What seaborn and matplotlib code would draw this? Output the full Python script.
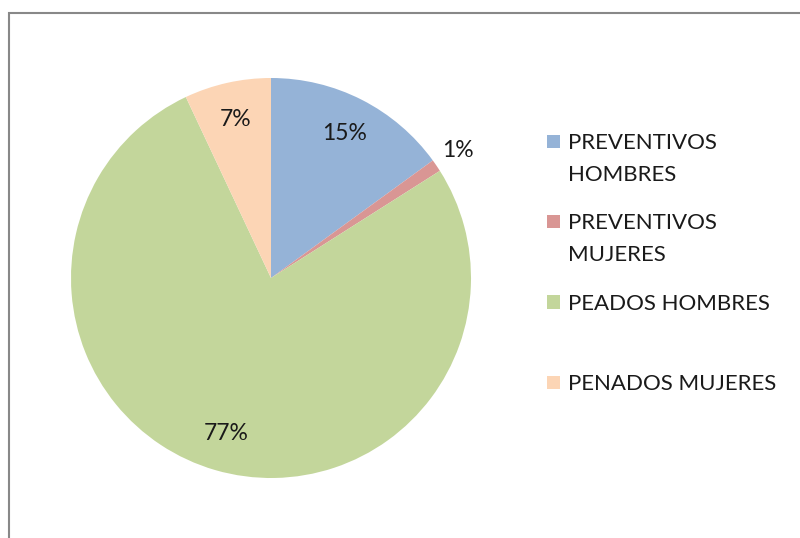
import matplotlib
matplotlib.use("Agg")
import numpy as np
import matplotlib.pyplot as plt
import seaborn as sns
from matplotlib.patches import Rectangle, Wedge
from matplotlib.legend_handler import HandlerPatch

categories = ["PREVENTIVOS\nHOMBRES", "PREVENTIVOS\nMUJERES", "PEADOS HOMBRES\n", "PENADOS MUJERES\n"]
percentages = [15, 1, 77, 7]
colors = ["#95B3D7", "#D99694", "#C3D69B", "#FCD5B5"]

sns.set_style("white")
plt.rcParams['font.family'] = ['Lato', 'DejaVu Sans']

fig = plt.figure(figsize=(8, 5.38), dpi=100)
ax = fig.add_axes([71 / 800, 1 - 478 / 538, 400 / 800, 400 / 538])
wedges, _ = ax.pie(percentages, colors=sns.color_palette(colors), startangle=90,
                   counterclock=False, wedgeprops=dict(linewidth=0))
ax.set_xlim(-1, 1)
ax.set_ylim(-1, 1)

# percentage labels, small slices go outside
for w, p in zip(wedges, percentages):
    ang = np.deg2rad((w.theta1 + w.theta2) / 2)
    r = 0.81 if p >= 5 else 1.13
    ax.text(r * np.cos(ang), r * np.sin(ang), f"{p}%", ha='center', va='center',
            fontsize=16.5, color='#1a1a1a')

# outer chart frame
fig.add_artist(Rectangle((9 / 800, -0.05), 1.0, 1 - 13 / 538 + 0.05, transform=fig.transFigure,
                         fill=False, edgecolor='#888888', linewidth=1.5))


def square(legend, orig_handle, xdescent, ydescent, width, height, fontsize):
    # put the marker next to the first line of the label
    return Rectangle((-xdescent, -ydescent + 0.85 * fontsize), width, width)


leg = fig.legend(wedges, categories, loc='upper left', bbox_to_anchor=(547 / 800, 1 - 133 / 538),
                 frameon=False, fontsize=16, handlelength=0.6, handletextpad=0.35,
                 labelspacing=1.3, borderpad=0, borderaxespad=0,
                 handler_map={Wedge: HandlerPatch(patch_func=square)})
for t in leg.get_texts():
    t.set_linespacing(1.72)
    t.set_color('#1a1a1a')

fig.savefig("out.png", dpi=100)
